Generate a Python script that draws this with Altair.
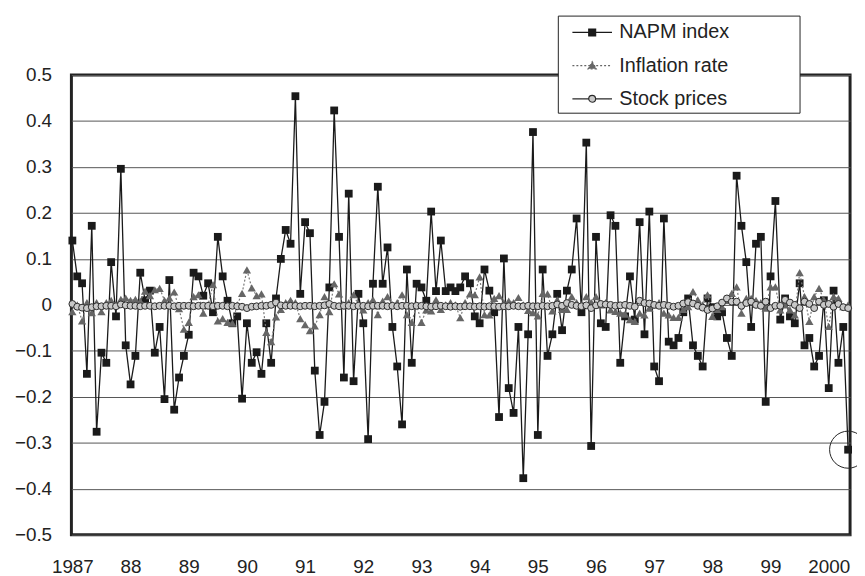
import altair as alt
import pandas as pd

# Monthly observations, Jan 1987 .. May 2000
napm = [
    0.140, 0.062, 0.047, -0.150, 0.172, -0.276, -0.104, -0.126, 0.093, -0.025,
    0.296, -0.088, -0.173, -0.111, 0.070, 0.010, 0.031, -0.104, -0.048, -0.205,
    0.054, -0.228, -0.158, -0.111, -0.065, 0.070, 0.062, 0.020, 0.047, -0.016,
    0.148, 0.062, 0.009, -0.040, -0.025, -0.204, -0.040, -0.126, -0.103, -0.150,
    -0.040, -0.126, 0.014, 0.100, 0.163, 0.133, 0.454, 0.024, 0.180, 0.156,
    -0.143, -0.283, -0.211, 0.038, 0.423, 0.148, -0.158, 0.242, -0.166, 0.024,
    -0.040, -0.292, 0.046, 0.257, 0.046, 0.125, -0.048, -0.134, -0.260, 0.077,
    -0.126, 0.046, 0.038, 0.009, 0.203, 0.030, 0.140, 0.030, 0.038, 0.030,
    0.038, 0.062, 0.047, -0.025, -0.040, 0.077, 0.031, -0.016, -0.244, 0.101,
    -0.181, -0.235, -0.048, -0.377, -0.064, 0.376, -0.283, 0.077, -0.111, -0.064,
    0.024, -0.055, 0.031, 0.077, 0.188, -0.016, 0.353, -0.307, 0.148, -0.040,
    -0.048, 0.195, 0.172, -0.126, -0.025, 0.062, -0.032, 0.180, -0.064, 0.203,
    -0.134, -0.166, 0.188, -0.080, -0.088, -0.072, -0.016, 0.014, -0.088, -0.111,
    -0.134, 0.014, -0.005, -0.025, -0.016, -0.072, -0.111, 0.281, 0.172, 0.093,
    -0.048, 0.133, 0.148, -0.211, 0.062, 0.226, -0.032, 0.014, -0.025, -0.040,
    0.047, -0.088, -0.072, -0.134, -0.111, 0.010, -0.181, 0.031, -0.126, -0.048,
    -0.315,
]

inflation = [
    -0.015, 0.000, -0.035, 0.005, -0.017, 0.005, -0.015, 0.005, 0.010, 0.000,
    0.012, 0.015, 0.010, 0.012, 0.008, 0.030, 0.020, 0.033, 0.036, 0.010,
    0.015, 0.028, -0.008, -0.053, -0.038, 0.018, 0.022, -0.018, 0.000, 0.044,
    -0.035, -0.030, -0.038, -0.040, 0.000, 0.025, 0.076, 0.037, 0.020, 0.024,
    -0.060, -0.080, -0.026, -0.010, 0.005, 0.010, 0.005, -0.030, -0.043, -0.056,
    -0.046, -0.021, 0.018, -0.015, 0.046, 0.024, 0.000, 0.005, 0.022, 0.000,
    -0.011, 0.005, 0.011, -0.021, 0.008, 0.018, 0.000, 0.005, 0.022, -0.021,
    -0.038, 0.000, -0.038, -0.011, -0.013, 0.011, -0.010, 0.000, 0.005, 0.000,
    -0.028, 0.005, 0.024, 0.022, 0.061, -0.021, -0.022, 0.014, 0.020, 0.005,
    0.008, 0.005, 0.016, 0.000, -0.012, -0.017, -0.024, 0.025, 0.024, -0.013,
    0.011, -0.010, -0.010, 0.018, 0.005, 0.000, 0.018, 0.005, 0.018, 0.000,
    0.005, -0.011, -0.014, -0.018, -0.020, -0.032, -0.036, -0.018, -0.022, -0.007,
    0.000, 0.005, -0.018, -0.022, -0.027, -0.027, -0.010, -0.004, 0.029, 0.011,
    0.000, 0.022, -0.025, -0.010, -0.004, 0.010, 0.025, 0.039, -0.018, 0.014,
    0.014, 0.010, 0.005, -0.007, 0.039, 0.039, -0.011, 0.000, -0.011, -0.022,
    0.070, 0.018, -0.036, 0.018, 0.036, 0.011, -0.047, 0.018, 0.014, -0.004,
    0.000,
]

stocks = [
    0.002, -0.004, -0.006, -0.007, -0.005, -0.003, -0.003, -0.002, -0.002, -0.003,
    0.001, -0.001, -0.002, -0.002, -0.003, -0.002, -0.002, -0.003, -0.002, -0.002,
    -0.002, -0.003, -0.002, -0.002, -0.002, -0.003, -0.002, -0.002, -0.002, -0.003,
    -0.002, -0.002, -0.003, -0.002, -0.003, -0.004, -0.007, -0.004, -0.003, -0.002,
    -0.002, 0.000, 0.005, -0.001, -0.002, -0.002, -0.002, -0.003, -0.002, -0.002,
    -0.003, -0.002, -0.001, 0.002, -0.002, -0.003, -0.002, -0.002, -0.003, -0.002,
    -0.002, -0.003, -0.002, -0.002, -0.002, -0.003, -0.002, -0.003, -0.002, -0.002,
    -0.003, -0.002, -0.002, -0.003, -0.004, -0.003, -0.002, -0.003, -0.004, -0.003,
    -0.004, -0.003, -0.003, -0.004, -0.003, -0.004, -0.003, -0.003, -0.004, -0.003,
    -0.003, -0.002, -0.003, -0.003, -0.002, -0.003, -0.003, -0.002, -0.003, -0.002,
    0.001, -0.002, 0.004, 0.000, -0.002, -0.003, -0.001, -0.007, -0.001, 0.002,
    0.001, 0.000, -0.002, -0.001, 0.000, -0.002, -0.004, 0.009, 0.004, 0.003,
    0.000, -0.002, 0.000, -0.002, -0.004, -0.002, 0.003, 0.006, 0.003, -0.002,
    -0.006, -0.011, -0.008, -0.003, 0.005, 0.014, 0.007, 0.007, -0.002, 0.004,
    0.007, 0.000, -0.002, 0.007, -0.007, -0.002, -0.002, 0.011, 0.005, 0.000,
    -0.007, 0.007, 0.002, -0.007, 0.007, 0.000, 0.002, -0.004, 0.002, -0.005,
    -0.007,
]

series_names = ["NAPM index", "Inflation rate", "Stock prices"]
year_labels = ["1987", "88", "89", "90", "91", "92", "93", "94", "95", "96",
               "97", "98", "99", "2000"]

rows = []
for name, vals in zip(series_names, [napm, inflation, stocks]):
    for i, v in enumerate(vals):
        rows.append({"m": i, "series": name, "value": v})
df = pd.DataFrame(rows)
legend_df = pd.DataFrame({"series": series_names})

FONT = "Liberation Sans"
label_array = "[" + ",".join("'%s'" % s for s in year_labels) + "]"

x = alt.X("m:Q",
          scale=alt.Scale(domain=[-0.2, 160.4], nice=False, zero=False),
          axis=alt.Axis(values=list(range(0, 157, 12)), title=None, grid=False,
                        ticks=False, tickSize=0, domain=False,
                        labelExpr=label_array + "[round(datum.value/12)]",
                        labelFontSize=19, labelFont=FONT, labelColor="#222",
                        labelPadding=23, labelFlush=False))
y = alt.Y("value:Q",
          scale=alt.Scale(domain=[-0.5, 0.5], nice=False, zero=False),
          axis=alt.Axis(values=[-0.5, -0.4, -0.3, -0.2, -0.1, 0, 0.1, 0.2, 0.3, 0.4, 0.5],
                        title=None, grid=True, gridColor="#555", gridWidth=1,
                        ticks=False, tickSize=0, domain=False,
                        labelExpr="datum.value == 0 ? '0' : format(datum.value, '.1f')",
                        labelFontSize=19, labelFont=FONT, labelColor="#222",
                        labelPadding=20))

base = alt.Chart(df).encode(x=x, y=y)

napm_line = base.transform_filter(alt.datum.series == "NAPM index").mark_line(
    color="#1a1a1a", strokeWidth=1.3)
napm_pts = base.transform_filter(alt.datum.series == "NAPM index").mark_point(
    shape="square", filled=True, color="#1a1a1a", size=62, opacity=1)

inf_line = base.transform_filter(alt.datum.series == "Inflation rate").mark_line(
    color="#7a7a7a", strokeWidth=1.2, strokeDash=[2, 2])
inf_pts = base.transform_filter(alt.datum.series == "Inflation rate").mark_point(
    shape="triangle-up", filled=True, color="#666666", size=70, opacity=1)

stk_line = base.transform_filter(alt.datum.series == "Stock prices").mark_line(
    color="#333333", strokeWidth=1)
stk_pts = base.transform_filter(alt.datum.series == "Stock prices").mark_point(
    shape="circle", filled=True, fill="#c8c8c8", stroke="#2a2a2a", strokeWidth=1,
    size=48, opacity=1)

ring = base.transform_filter(
    (alt.datum.series == "NAPM index") & (alt.datum.m == len(napm) - 1)
).mark_point(shape="circle", filled=False, stroke="#222", strokeWidth=1, size=1400,
             opacity=1)

sq = "M-0.19,0H3.14M1.185,-0.29H1.765V0.29H1.185Z"
tri = "M-0.19,0H3.14M1.475,-0.33L1.82,0.27H1.13Z"
circ = ("M-0.19,0H1.185M1.765,0H3.14M1.185,0A0.29,0.29,0,1,1,1.765,0"
        "A0.29,0.29,0,1,1,1.185,0Z")

# blank (Braille pattern blank) title on the right widens the legend box
legend = alt.Legend(title="\u2800\u2800\u2800\u2800", titleOrient="right",
                    titlePadding=7, titleFontSize=20, titleFont=FONT,
                    titleColor="white",
                    orient="none", legendX=491, legendY=-60,
                    labelFont=FONT, labelFontSize=20, labelColor="#222",
                    symbolSize=576, symbolStrokeWidth=1.2, symbolOpacity=1,
                    rowPadding=10.5, padding=4, labelOffset=32, labelLimit=300,
                    strokeColor="#222", fillColor="white", cornerRadius=0)

sort_order = series_names
legend_layer = alt.Chart(legend_df).mark_point(opacity=0, filled=True).encode(
    shape=alt.Shape("series:N", sort=sort_order,
                    scale=alt.Scale(domain=series_names, range=[sq, tri, circ]),
                    legend=legend),
    fill=alt.Fill("series:N", sort=sort_order,
                  scale=alt.Scale(domain=series_names, range=["#1a1a1a", "#666666", "#c8c8c8"]),
                  legend=legend),
    stroke=alt.Stroke("series:N", sort=sort_order,
                      scale=alt.Scale(domain=series_names, range=["#1a1a1a", "#666666", "#2a2a2a"]),
                      legend=legend),
    strokeDash=alt.StrokeDash("series:N", sort=sort_order,
                              scale=alt.Scale(domain=series_names, range=[[10, 0], [2, 2], [10, 0]]),
                              legend=legend),
)

chart = alt.layer(
    napm_line, napm_pts, inf_line, inf_pts, stk_line, stk_pts, ring, legend_layer
).properties(
    width=786, height=464,
    padding={"left": 64, "top": 65, "right": 7, "bottom": 40},
    autosize=alt.AutoSizeParams(type="none"),
    background="white",
).configure_view(
    stroke="#222", strokeWidth=3
)

chart.save("out.html", embed_options={"renderer": "svg", "actions": False})
